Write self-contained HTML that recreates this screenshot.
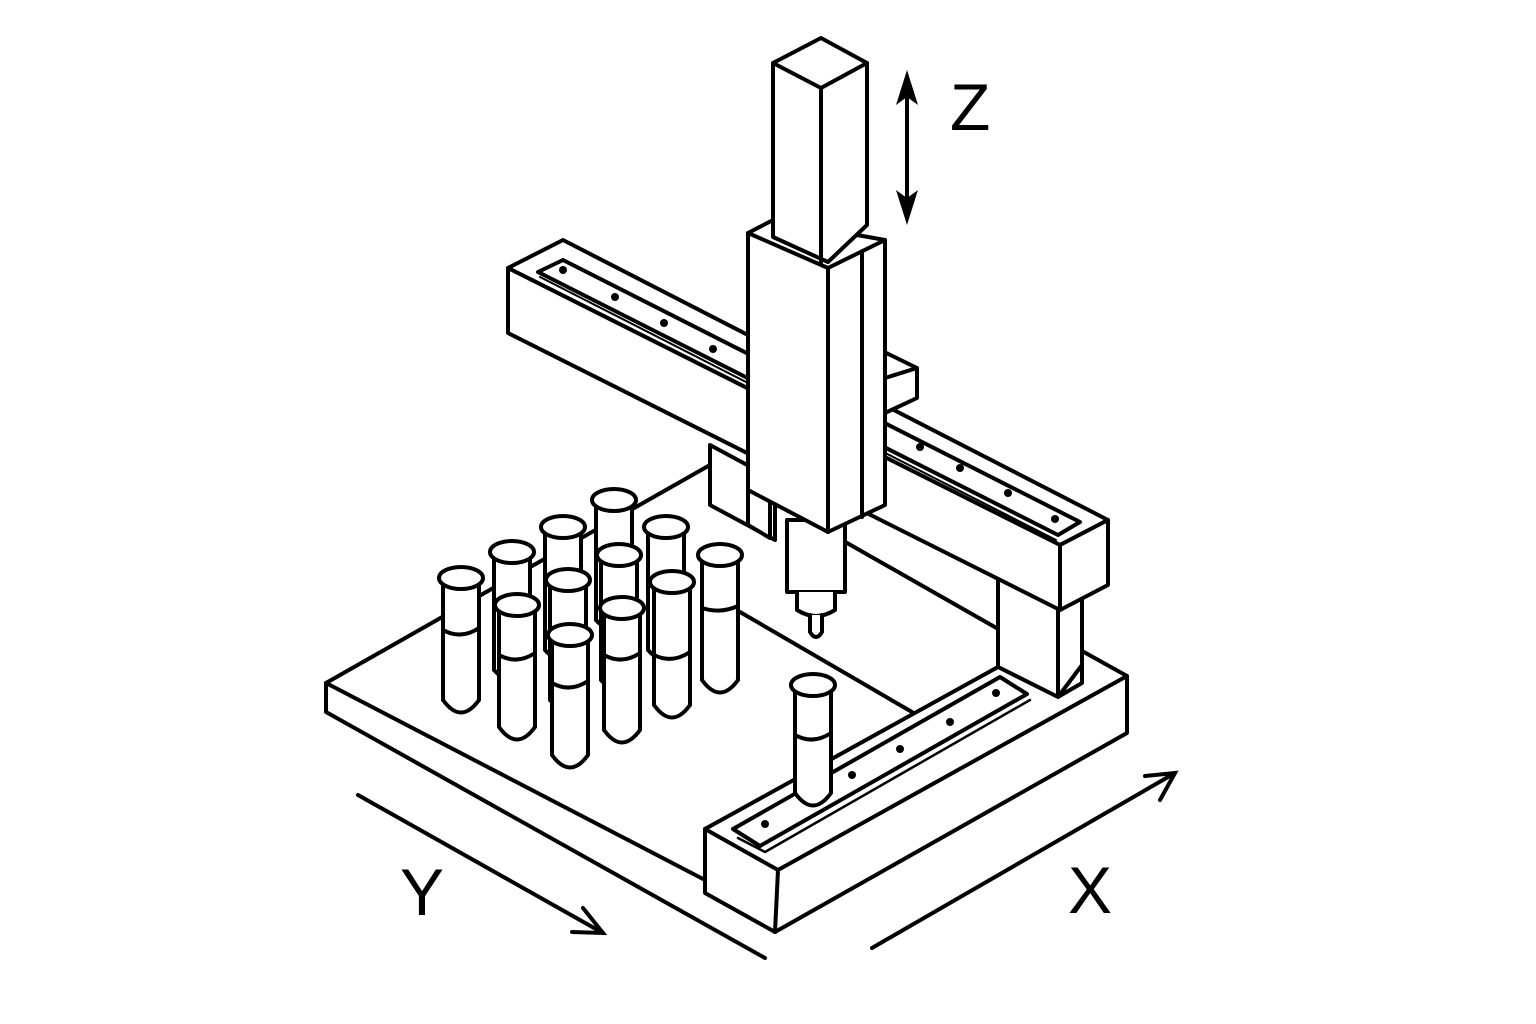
<!DOCTYPE html>
<html><head><style>
html,body{margin:0;padding:0;background:#fff;}
svg{display:block;}
text{font-family:"Liberation Sans",sans-serif;}
</style></head><body>
<svg width="1536" height="1024" viewBox="0 0 1536 1024" xmlns="http://www.w3.org/2000/svg">
<g fill="#fff" stroke="#000" stroke-width="4" stroke-linejoin="round" stroke-linecap="round">
<!-- base plate -->
<polygon points="326,683 710,465 1000,630 1000,670 705,829 705,880"/>
<polyline points="326,683 326,712 765,958" fill="none"/>
<line x1="740" y1="612" x2="912" y2="712"/>
<!-- right leg -->
<polygon points="998,560 1058,590 1082,578 1082,665 1058,697 998,667"/>
<line x1="1058" y1="600" x2="1058" y2="697"/>
<!-- base right part + X block -->
<polygon points="1082,651 1127,676 1127,733 775,932 705,893 705,829 998,667 1058,697 1082,683"/>
<polyline points="705,829 778,870 1127,676" fill="none"/>
<line x1="778" y1="870" x2="775" y2="932"/>
<!-- X rail -->
<polygon points="733,829 1000,677 1027,694 760,846"/>
<polyline points="738,838 765,852 1030,700" fill="none" stroke-width="2.5"/>
<!-- beam block under left -->
<polygon points="710,445 775,480 775,540 710,505"/>
<!-- beam -->
<polygon points="508,268 563,240 1108,520 1060,545"/>
<polygon points="508,268 1060,545 1060,610 508,333"/>
<polygon points="1060,545 1108,520 1108,585 1060,610"/>
<polygon points="538,272 563,260 1080,522 1058,535"/>
<line x1="540" y1="277" x2="1056" y2="540" stroke-width="2"/>
<!-- small block right of carriage -->
<polygon points="870,345 917,368 917,398 870,420"/>
<line x1="885" y1="378" x2="917" y2="368"/>
<!-- spindle -->
<rect x="787" y="520" width="58" height="72"/>
<path d="M797,592 L797,610 Q816,622 835,610 L835,592"/>
<path d="M810,615 L810,632 Q816,642 822,632 L822,615"/>
<!-- block bottom under carriage -->
<polygon points="748,480 770,490 770,538 748,525"/>
<!-- carriage -->
<polygon points="748,233 773,220 885,240 885,505 828,532 748,490"/>
<polyline points="748,233 828,268 885,240" fill="none"/>
<line x1="828" y1="268" x2="828" y2="532"/>
<line x1="862" y1="252" x2="862" y2="517"/>
<!-- column -->
<polygon points="773,63 821,38 867,63 867,225 828,262 773,237"/>
<polyline points="773,63 821,88 867,63" fill="none"/>
<line x1="821" y1="88" x2="821" y2="262"/>
<!-- Z arrow -->
<line x1="907" y1="80" x2="907" y2="215"/>
</g>
<g fill="#000">
<polygon points="907,70 896,105 907,97 918,105"/>
<polygon points="907,225 896,190 907,198 918,190"/>
<circle cx="563" cy="270" r="4"/><circle cx="615" cy="297" r="4"/><circle cx="664" cy="323" r="4"/><circle cx="713" cy="349" r="4"/>
<circle cx="920" cy="447" r="4"/><circle cx="960" cy="468" r="4"/><circle cx="1008" cy="493" r="4"/><circle cx="1055" cy="519" r="4"/>
<circle cx="765" cy="824" r="4"/><circle cx="852" cy="775" r="4"/><circle cx="900" cy="749" r="4"/><circle cx="950" cy="722" r="4"/><circle cx="996" cy="693" r="4"/>
</g>
<!-- tubes -->
<g fill="#fff" stroke="#000" stroke-width="4">
<path d="M596,502 L596,620 Q614,640 632,620 L632,502"/><ellipse cx="614" cy="500" rx="22" ry="11"/>
<path d="M545,529 L545,650 Q563,670 581,650 L581,529"/><ellipse cx="563" cy="527" rx="22" ry="11"/>
<path d="M648,529 L648,650 Q666,670 684,650 L684,529"/><ellipse cx="666" cy="527" rx="22" ry="11"/>
<path d="M494,554 L494,670 Q512,690 530,670 L530,554"/><ellipse cx="512" cy="552" rx="22" ry="11"/>
<path d="M601,557 L601,680 Q619,700 637,680 L637,557"/><ellipse cx="619" cy="555" rx="22" ry="11"/>
<path d="M702,557 L702,680 Q720,705 738,680 L738,557"/><path d="M702,608 Q720,614 738,606" fill="none"/><ellipse cx="720" cy="555" rx="22" ry="11"/>
<path d="M443,580 L443,700 Q461,725 479,700 L479,580"/><path d="M443,630 Q461,640 479,628" fill="none"/><ellipse cx="461" cy="578" rx="22" ry="11"/>
<path d="M550,582 L550,700 Q568,720 586,700 L586,582"/><ellipse cx="568" cy="580" rx="22" ry="11"/>
<path d="M654,584 L654,705 Q672,730 690,705 L690,584"/><path d="M654,655 Q672,664 690,652" fill="none"/><ellipse cx="672" cy="582" rx="22" ry="11"/>
<path d="M499,607 L499,727 Q517,752 535,727 L535,607"/><path d="M499,655 Q517,665 535,653" fill="none"/><ellipse cx="517" cy="605" rx="22" ry="11"/>
<path d="M604,610 L604,730 Q622,755 640,730 L640,610"/><path d="M604,655 Q622,665 640,653" fill="none"/><ellipse cx="622" cy="608" rx="22" ry="11"/>
<path d="M552,637 L552,755 Q570,780 588,755 L588,637"/><path d="M552,683 Q570,693 588,681" fill="none"/><ellipse cx="570" cy="635" rx="22" ry="11"/>
<path d="M795,687 L795,793 Q813,818 831,793 L831,687"/><path d="M795,735 Q813,745 831,733" fill="none"/><ellipse cx="813" cy="685" rx="22" ry="11"/>
</g>
<g stroke="#000" stroke-width="4" fill="none" stroke-linecap="round">
<line x1="358" y1="795" x2="603" y2="933"/>
<polyline points="583,908 603,933 572,932"/>
<line x1="872" y1="948" x2="1175" y2="773"/>
<polyline points="1145,776 1175,773 1160,800"/>
</g>
<text x="950" y="130" font-size="66">Z</text>
<text x="400" y="915" font-size="66">Y</text>
<text x="1068" y="913" font-size="66">X</text>
</svg>
</body></html>
